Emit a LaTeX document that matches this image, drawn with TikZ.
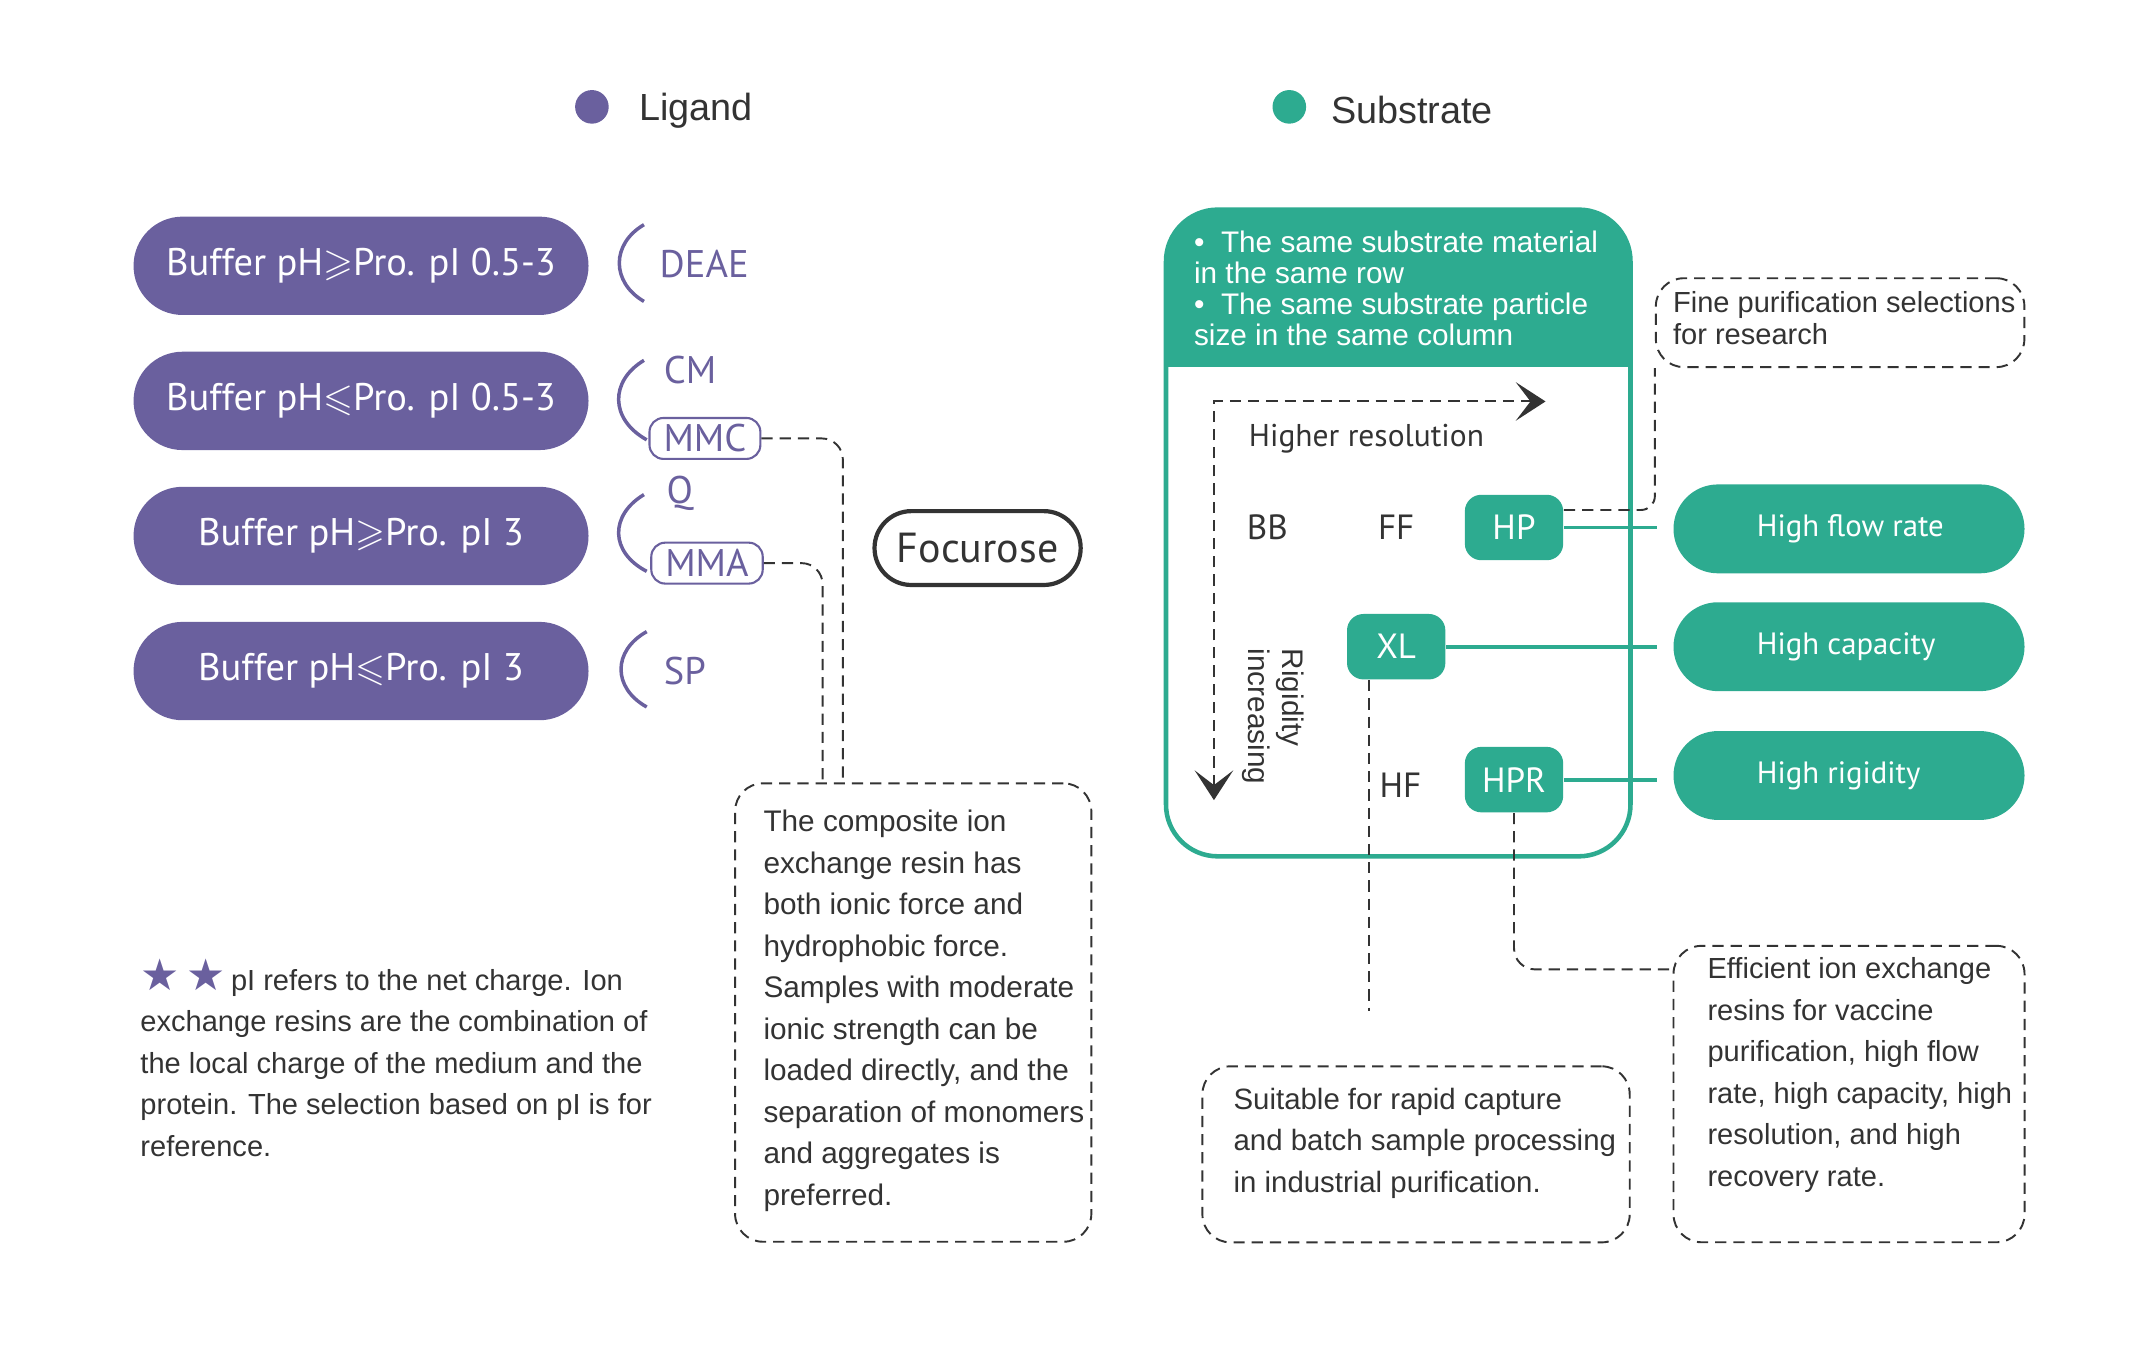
\documentclass[tikz,border=0pt]{standalone}
\usepackage{fontspec}
\usepackage{amssymb}
\setmainfont{Liberation Sans}
\newfontfamily\ptsans{PT Sans}
\newfontfamily\symfont{DejaVu Sans}
\usepackage{tikz}
\usetikzlibrary{positioning}
\usetikzlibrary{arrows.meta}
\definecolor{ligpurple}{HTML}{6A609E}
\definecolor{subteal}{HTML}{2DAB90}
\definecolor{txtgray}{HTML}{333333}
\def\upx{0.1376mm}
\newcommand{\pilltext}[1]{\makebox[52.7pt][l]{#1}}
\tikzstyle{legend} = [inner sep=0pt, text=txtgray, font=\fontsize{10.8}{12}\selectfont]
\tikzstyle{buffer} = [fill=ligpurple, text=white, rounded corners=14pt, minimum width=130pt, minimum height=28.1pt, font=\ptsans\fontsize{11}{12}\selectfont]
\tikzstyle{liglabel} = [inner sep=0pt, text=ligpurple, font=\ptsans\fontsize{11}{12}\selectfont]
\tikzstyle{ligbox} = [draw=ligpurple, line width=0.6pt, text=ligpurple, rounded corners=4pt, inner xsep=4pt, inner ysep=0pt, minimum height=11.7pt, font=\ptsans\fontsize{11}{12}\selectfont]
\tikzstyle{bracket} = [draw=ligpurple, line width=1pt]
\tikzstyle{focus} = [draw=txtgray, line width=1.2pt, rounded corners=10.5pt, minimum width=58.9pt, minimum height=21.1pt, text=txtgray, font=\ptsans\fontsize{12}{14}\selectfont]
\tikzstyle{dashline} = [draw=txtgray, line width=0.55pt, dash pattern=on 3.2pt off 2pt]
\tikzstyle{notebox} = [dashline, rounded corners=8pt]
\tikzstyle{notetext} = [inner sep=0pt, anchor=north west, align=left, text=txtgray, font=\fontsize{8.6}{11.86}\selectfont]
\tikzstyle{gradelabel} = [inner sep=0pt, text=txtgray, font=\ptsans\fontsize{10}{12}\selectfont]
\tikzstyle{gradebox} = [fill=subteal, text=white, rounded corners=4.7pt, minimum width=28.1pt, minimum height=18.7pt, font=\ptsans\fontsize{10}{12}\selectfont]
\tikzstyle{feature} = [fill=subteal, text=white, rounded corners=12.7pt, minimum width=100.3pt, minimum height=25.4pt, font=\ptsans\fontsize{8.8}{11}\selectfont]
\tikzstyle{tealline} = [draw=subteal, line width=1.1pt]
\tikzset{bigtip/.tip={Stealth[length=8.5pt, width=11pt, inset=4.2pt]}}

\begin{document}
\begin{tikzpicture}[x=\upx, y=-\upx]
  \useasboundingbox (0,0) rectangle (1567,984.4);

  % legend
  \fill[ligpurple] (432,78) circle[radius=4.8pt];
  \node[legend, anchor=west] (ligand) at (466,81) {Ligand};
  \fill[subteal] (941,78) circle[radius=4.8pt];
  \node[legend, anchor=west] (substrate) at (971,80) {Substrate};

  % buffer conditions
  \node[buffer] (buf1) at (263.5,194) {Buffer pH$\geqslant$Pro. pI 0.5-3};
  \node[buffer, below=10.1pt of buf1] (buf2) {Buffer pH$\leqslant$Pro. pI 0.5-3};
  \node[buffer, below=10.1pt of buf2] (buf3) {Buffer pH$\geqslant$Pro. pI 3};
  \node[buffer, below=10.1pt of buf3] (buf4) {Buffer pH$\leqslant$Pro. pI 3};

  % ligands
  \node[liglabel, anchor=west] (deae) at (481,193) {DEAE};
  \node[liglabel, anchor=west] (cm) at (484,270) {CM};
  \node[ligbox] (mmc) at (514.5,320) {MMC};
  \node[liglabel, anchor=west] (q) at (486,360) {Q};
  \node[ligbox] (mma) at (516,411) {MMA};
  \node[liglabel, anchor=west] (sp) at (484,490) {SP};

  % brackets
  \draw[bracket] (470,164) .. controls (446,178) and (446,206) .. (470,220);
  \draw[bracket] (470,263) .. controls (445,278) and (445,306) .. (472,321);
  \draw[bracket] (470,361) .. controls (445,376) and (445,403) .. (472,417);
  \draw[bracket] (472,461) .. controls (447,475) and (447,502) .. (472,516);

  \node[focus] (focurose) at (713.5,400) {Focurose};

  %textboxes
  \node[notebox, minimum width=101.8pt, minimum height=131pt] (composite) at (666.5,739) {};
  \node[notetext, font=\fontsize{8.5}{11.86}\selectfont] (compositetext) at ([shift={(8.2pt,-7.8pt)}]composite.north west)
    {The composite ion\\exchange resin has\\both ionic force and\\hydrophobic force.\\Samples with moderate\\ionic strength can be\\loaded directly, and the\\separation of monomers\\and aggregates is\\preferred.};
  \node[align=left, inner sep=0pt, text=txtgray, anchor=west, font=\fontsize{8.3}{11.86}\selectfont] (starnote) at (102,772)
    {{\symfont\fontsize{12.5}{11}\selectfont\color{ligpurple}★\,★}\,pI refers to the net charge. Ion\\exchange resins are the combination of\\the local charge of the medium and the\\protein. The selection based on pI is for\\reference.};

  \draw[dashline, rounded corners=6pt] (mmc.east) -| ([xshift=-20.1pt]composite.north);
  \draw[dashline, rounded corners=6pt] (mma.east) -| ([xshift=-25.9pt]composite.north);

  % substrate panel
  \begin{scope}
    \clip[rounded corners=14.8pt] (851,153) rectangle (1190,625);
    \fill[subteal] (851,153) rectangle (1190,268);
  \end{scope}
  \draw[subteal, line width=1.3pt, rounded corners=14.8pt] (851,153) rectangle (1190,625);
  \node[anchor=north west, inner sep=0pt, align=left, text=white, font=\fontsize{8.5}{8.9}\selectfont] (header) at (871,168)
    {\textbullet\ \ The same substrate material\\in the same row\\\textbullet\ \ The same substrate particle\\size in the same column};

  \coordinate (rescorner) at (886,293);
  \coordinate (resend) at (1128,293);
  \coordinate (rigend) at (886,584);
  \draw[dashline, bigtip-bigtip] (rigend) -- (rescorner) -- (resend);

  \node[gradelabel, anchor=west, font=\ptsans\fontsize{9}{11}\selectfont] (higher) at (911,320) {Higher resolution};
  \node[inner sep=0pt, rotate=-90, align=left, text=txtgray, font=\fontsize{8.5}{9.8}\selectfont] (rigidity) at (929,523) {Rigidity\\increasing};

  \node[gradelabel] (bb) at (925,385) {BB};
  \node[gradelabel] (ff) at (1019,385) {FF};
  \node[gradebox] (hp) at (1105,385) {HP};
  \node[gradebox] (xl) at (1019,472) {XL};
  \node[gradelabel] (hf) at (1022,573) {HF};
  \node[gradebox] (hpr) at (1105,569) {HPR};

  % features
  \node[feature] (flow) at (1349.5,386) {\pilltext{High flow rate}};
  \node[feature] (capacity) at (1349.5,472) {\pilltext{High capacity}};
  \node[feature] (rigid) at (1349.5,566) {\pilltext{High rigidity}};

  \node[notebox, minimum width=105.3pt, minimum height=25.4pt] (fine) at (1343,235.5) {};
  \node[notetext, font=\fontsize{8.3}{9}\selectfont] (finetext) at ([shift={(5pt,-3.9pt)}]fine.north west)
    {Fine purification selections\\for research};
  \node[notebox, minimum width=122.1pt, minimum height=50.3pt] (suitable) at (1033.5,842.5) {};
  \node[notetext, font=\fontsize{8.4}{11.86}\selectfont] (suitabletext) at ([shift={(9pt,-6.2pt)}]suitable.north west)
    {Suitable for rapid capture\\and batch sample processing\\in industrial purification.};
  \node[notebox, minimum width=100.3pt, minimum height=84.7pt] (efficient) at (1349.5,798.5) {};
  \node[notetext, font=\fontsize{8.3}{11.86}\selectfont] (efficienttext) at ([shift={(9.8pt,-3.5pt)}]efficient.north west)
    {Efficient ion exchange\\resins for vaccine\\purification, high flow\\rate, high capacity, high\\resolution, and high\\recovery rate.};

  %arrows
  \draw[tealline, shorten >=4.5pt] (hp.east) -- (hp.east -| flow.west);
  \draw[tealline, shorten >=4.5pt] (xl.east) -- (xl.east -| capacity.west);
  \draw[tealline, shorten >=4.5pt] (hpr.east) -- (hpr.east -| rigid.west);

  \coordinate (capend) at (999,738);
  \draw[dashline, rounded corners=4pt] ([yshift=5pt]hp.east) -| (fine.south west);
  \draw[dashline] (capend |- xl.south) -- (capend);
  \draw[dashline, rounded corners=6pt] (hpr.south) |- ([yshift=-7pt]efficient.north west);
\end{tikzpicture}
\end{document}
